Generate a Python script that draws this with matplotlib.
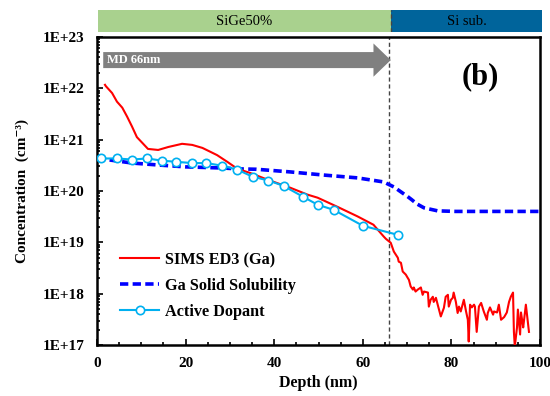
import numpy as np
import matplotlib
matplotlib.use('Agg')
import matplotlib.pyplot as plt
import matplotlib.transforms as mtransforms
from matplotlib.patches import FancyArrow, Rectangle
from matplotlib.ticker import LogLocator, MultipleLocator, NullFormatter

plt.rcParams['font.family'] = ['Liberation Serif', 'DejaVu Serif']
plt.rcParams['font.weight'] = 'bold'

# SIMS profile ED3 (Ga), depth in nm, concentration in cm^-3
sims_depth = [1.8, 2.0, 3.4, 4.5, 5.7, 6.8, 7.9, 9.0, 10.2, 11.5, 13.8, 16.1, 19.2, 21.5,
              23.8, 27.1, 29.4, 31.7, 34.6, 38.5, 43.7, 47.5, 49.8, 54.3, 58.8, 62.4,
              64.7, 65.2, 66.3, 67.0, 67.9, 68.1, 68.6, 69.0, 69.7, 70.1, 70.4, 70.8,
              71.3, 71.5, 71.9, 72.4, 73.1, 73.5, 73.8, 74.7, 74.9, 75.3, 75.8, 76.0,
              76.5, 76.9, 77.6, 78.3, 78.7, 79.2, 79.4, 79.9, 80.3, 80.5, 81.0, 81.4,
              81.7, 82.1, 82.8, 83.3, 83.7, 83.9, 84.2, 84.6, 85.1, 85.3, 85.7, 86.2,
              86.7, 87.3, 88.0, 88.2, 88.7, 89.4, 89.6, 90.3, 90.7, 91.2, 91.9, 92.5,
              93.0, 93.4, 93.9, 94.1, 94.3, 94.8, 95.0, 95.5, 95.7, 96.2, 96.4, 96.8, 97.5]
sims_conc = [1.17e22, 1.1e22, 8.1e21, 5.5e21, 4.2e21, 2.8e21, 1.8e21, 1.12e21, 8.7e20,
             6.6e20, 6.3e20, 7.2e20, 8.3e20, 7.9e20, 6.9e20, 5.0e20, 3.7e20, 2.7e20,
             2.24e20, 1.66e20, 1.15e20, 8.5e19, 7.4e19, 4.9e19, 3.2e19, 2.2e19, 1.3e19,
             1.17e19, 9.8e18, 6.6e18, 5.0e18, 4.2e18, 4.0e18, 2.7e18, 2.35e18, 2.05e18,
             1.86e18, 1.38e18, 1.2e18, 1.32e18, 1.1e18, 1.2e18, 1.32e18, 9.5e17, 1.1e18,
             1.05e18, 5.6e17, 7.6e17, 8.7e17, 6.9e17, 8.3e17, 6.1e17, 3.6e17, 5.3e17,
             8.7e17, 9.5e17, 5.6e17, 7.6e17, 8.3e17, 1.05e18, 6.9e17, 4.2e17, 5.6e17,
             4.5e17, 7.6e17, 4.5e17, 3.1e17, 1.17e17, 6.1e17, 5.4e17, 6.1e17, 5.6e17,
             1.8e17, 5.6e17, 6.6e17, 4.5e17, 3.1e17, 4.2e17, 5.4e17, 3.9e17, 4.5e17,
             4.3e17, 6.1e17, 3.1e17, 3.5e17, 4.3e17, 6.9e17, 8.7e17, 1.05e18, 1.8e17,
             9.3e16, 2.2e17, 4.9e17, 1.6e17, 4.3e17, 2.2e17, 3.1e17, 6.1e17, 1.8e17]

# Ga solid solubility
sol_depth = [0, 3, 8, 14, 20, 28.5, 31.7, 36, 43.7, 51, 58.8, 64.7, 67, 70.1, 71,
             72.2, 73.8, 76.9, 81, 100]
sol_conc = [4.3e20, 4.0e20, 3.5e20, 3.2e20, 2.95e20, 2.8e20, 2.7e20, 2.65e20, 2.35e20,
            2.05e20, 1.8e20, 1.5e20, 1.2e20, 7.8e19, 6.8e19, 5.6e19, 4.7e19, 4.1e19,
            4.0e19, 4.0e19]

# Active dopant
act_depth = [1.0, 4.5, 7.9, 11.3, 14.7, 17.9, 21.5, 24.7, 28.3, 31.7, 35.1, 38.7,
             42.1, 46.4, 49.8, 53.4, 60.0, 67.9]
act_conc = [4.3e20, 4.3e20, 4.1e20, 4.3e20, 3.9e20, 3.7e20, 3.5e20, 3.5e20, 3.1e20,
            2.6e20, 1.9e20, 1.6e20, 1.26e20, 7.8e19, 5.4e19, 4.3e19, 2.1e19, 1.4e19]

md_depth = 66
layers = ['SiGe50%', 'Si sub.']
layer_colors = ['#A9D18E', '#00649B']

fig = plt.figure(figsize=(5.5, 3.96), dpi=100)
ax = fig.add_axes([0.1764, 0.1288, 0.8055, 0.7778])
axb = fig.add_axes([0.1782, 0.919, 0.8073, 0.0556])

ax.plot(sims_depth, sims_conc, color='red', lw=1.5, label='SIMS ED3 (Ga)', zorder=3)
ax.plot(sol_depth, sol_conc, color='#0000FF', lw=2.6, dashes=(2.3, 1.2),
        label='Ga Solid Solubility', zorder=2)
ax.plot(act_depth, act_conc, color='#00B0F0', lw=1.5, marker='o', ms=6,
        mfc='white', mec='#00B0F0', mew=1.2, label='Active Dopant', zorder=4)

ax.axvline(md_depth, color='#444444', lw=1, ls=(0, (3, 2)), zorder=1)

ax.set_yscale('log')
ax.set_xlim(0, 100)
ax.set_ylim(1e17, 1e23)
ax.xaxis.set_major_locator(MultipleLocator(20))
ax.xaxis.set_minor_locator(MultipleLocator(5))
ax.yaxis.set_minor_locator(LogLocator(base=10, subs=np.arange(2, 10), numticks=20))
ax.yaxis.set_minor_formatter(NullFormatter())
ax.set_yticks([1e17, 1e18, 1e19, 1e20, 1e21, 1e22, 1e23])
ax.set_yticklabels(['1E+%d' % e for e in range(17, 24)])
ax.tick_params(which='both', direction='in', top=False, right=False, width=1.2)
ax.tick_params(which='major', length=4, labelsize=11, pad=9)
ax.tick_params(which='minor', length=2.5)
for lab in ax.get_xticklabels() + ax.get_yticklabels():
    lab.set_fontweight('bold')
for s in ax.spines.values():
    s.set_linewidth(1.8)

ax.set_xlabel('Depth (nm)', fontsize=11.5, fontweight='bold', labelpad=3)
ax.set_ylabel('Concentration  (cm\u207b\u00b3)', fontsize=11, fontweight='bold',
              labelpad=10)

# MD arrow
trans = mtransforms.blended_transform_factory(ax.transData, ax.transAxes)
arr = FancyArrow(1.4, 0.925, md_depth + 0.3 - 1.4, 0, width=0.052, head_width=0.108,
                 head_length=3.9, length_includes_head=True, color='#808080',
                 transform=trans, zorder=5, lw=0)
ax.add_patch(arr)
ax.text(2.3, 0.925, 'MD 66nm', transform=trans, color='white', fontsize=9,
        fontweight='bold', va='center', ha='left', zorder=6)

ax.text(0.865, 0.87, '(b)', transform=ax.transAxes, fontsize=22, fontweight='bold',
        ha='center', va='center')

leg = ax.legend(loc='upper left', bbox_to_anchor=(0.052, 0.302), frameon=False,
                fontsize=11.7, handlelength=2.4, handletextpad=0.35, labelspacing=0.62,
                borderpad=0, borderaxespad=0)
for t in leg.get_texts():
    t.set_fontweight('bold')

# Layer bar
axb.set_xlim(0, 100)
axb.set_ylim(0, 1)
axb.add_patch(Rectangle((0, 0), md_depth, 1, color=layer_colors[0], lw=0))
axb.add_patch(Rectangle((md_depth, 0), 100 - md_depth, 1, color=layer_colors[1], lw=0))
axb.text(md_depth / 2, 0.5, layers[0], ha='center', va='center', fontsize=10.5,
         fontweight='normal')
axb.text((md_depth + 100) / 2, 0.5, layers[1], ha='center', va='center', fontsize=10.5,
         fontweight='normal')
axb.axvline(md_depth, color='#444444', lw=1, ls=(0, (3, 2)))
axb.axis('off')

fig.savefig('out.png', dpi=100)
